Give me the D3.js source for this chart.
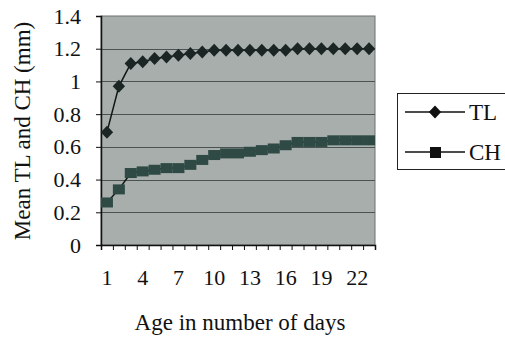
<!DOCTYPE html>
<html><head><meta charset="utf-8">
<script src="https://cdn.jsdelivr.net/npm/d3@7"></script>
<style>
html,body{margin:0;padding:0;background:#ffffff;}
svg{display:block;}
svg text{font-family:"Liberation Serif","Times New Roman",serif !important;}
</style></head>
<body><svg id="c" width="505" height="341"></svg>
<script>
const days = d3.range(1, 24);
const tlValues = [0.69,0.97,1.11,1.12,1.14,1.15,1.16,1.17,1.18,1.19,1.19,1.19,1.19,1.19,1.19,1.19,1.2,1.2,1.2,1.2,1.2,1.2,1.2];
const chValues = [0.26,0.34,0.44,0.45,0.46,0.47,0.47,0.49,0.52,0.55,0.56,0.56,0.57,0.58,0.59,0.61,0.63,0.63,0.63,0.64,0.64,0.64,0.64];
const xTickLabels = [1,4,7,10,13,16,19,22];
const yTicks = [0,0.2,0.4,0.6,0.8,1,1.2,1.4];
const seriesNames = ["TL","CH"];

const svg = d3.select("#c");
const L = 101, R = 375, T = 16, B = 245;
const x = d3.scaleBand().domain(days).range([L, R]).padding(0);
const xb = d3.scaleLinear().domain([0.5, 23.5]).range([L, R]);
const y = d3.scaleLinear().domain([0, 1.4]).range([B, T]);

// plot area
svg.append("rect").attr("x", L).attr("y", T).attr("width", R - L).attr("height", B - T)
  .attr("fill", "#a7aeac").attr("stroke", "#6d7371").attr("stroke-width", 1);

// gridlines
svg.append("g").selectAll("line").data(yTicks.filter(d => d > 0 && d < 1.4)).join("line")
  .attr("x1", L).attr("x2", R).attr("y1", d => Math.round(y(d)) + 0.5).attr("y2", d => Math.round(y(d)) + 0.5)
  .attr("stroke", "#4b5250").attr("stroke-width", 1);

// y axis
const yAxis = svg.append("g").attr("transform", `translate(${L},0)`)
  .call(d3.axisLeft(y).tickValues(yTicks).tickSize(5).tickPadding(15).tickFormat(d3.format("~g")));
yAxis.attr("font-family", null);
yAxis.select(".domain").attr("stroke", "#111").attr("stroke-width", 1.5);
yAxis.selectAll(".tick line").attr("stroke", "#111");
yAxis.selectAll("text").attr("font-size", 22).attr("fill", "#111");

// x axis ticks (category boundaries)
const xTickAxis = svg.append("g").attr("transform", `translate(0,${B})`)
  .call(d3.axisBottom(xb).tickValues(d3.range(0.5, 24, 1)).tickSize(5).tickFormat(""));
xTickAxis.select(".domain").attr("stroke", "#111").attr("stroke-width", 1.5);
xTickAxis.selectAll(".tick line").attr("stroke", "#111");

// x labels
const xLab = svg.append("g").attr("transform", `translate(0,${B})`)
  .call(d3.axisBottom(x).tickValues(xTickLabels).tickSize(0).tickPadding(24));
xLab.attr("font-family", null);
xLab.select(".domain").remove();
xLab.selectAll("text").attr("font-size", 22).attr("fill", "#111");

// lines
const cx = d => x(d) + x.bandwidth() / 2;
const line = d3.line().x((d, i) => cx(days[i])).y(d => y(d));
svg.append("path").datum(chValues).attr("d", line).attr("fill", "none").attr("stroke", "#101515").attr("stroke-width", 1.5);
svg.append("path").datum(tlValues).attr("d", line).attr("fill", "none").attr("stroke", "#101515").attr("stroke-width", 1.5);

// CH squares
svg.append("g").selectAll("rect").data(chValues).join("rect")
  .attr("x", (d, i) => cx(days[i]) - 6).attr("y", d => y(d) - 5)
  .attr("width", 12).attr("height", 10).attr("fill", "#2f4a45");

// TL diamonds
const diamond = (s) => `M0,${-s}L${s * 0.95},0L0,${s}L${-s * 0.95},0Z`;
svg.append("g").selectAll("path").data(tlValues).join("path")
  .attr("transform", (d, i) => `translate(${cx(days[i])},${y(d)})`)
  .attr("d", diamond(6.5)).attr("fill", "#1b2624");

// axis titles
svg.append("text").attr("x", (L + R) / 2 + 2).attr("y", 330).attr("text-anchor", "middle")
  .attr("font-size", 23).attr("fill", "#111").text("Age in number of days");
svg.append("text").attr("transform", "translate(30,131) rotate(-90)").attr("text-anchor", "middle")
  .attr("font-size", 23).attr("fill", "#111").text("Mean TL and CH (mm)");

// legend
const lg = svg.append("g");
lg.append("rect").attr("x", 397.5).attr("y", 93.5).attr("width", 115).attr("height", 76)
  .attr("fill", "#fff").attr("stroke", "#222").attr("stroke-width", 1);
const ly = [112, 152];
seriesNames.forEach((n, i) => {
  lg.append("line").attr("x1", 405).attr("x2", 465).attr("y1", ly[i]).attr("y2", ly[i])
    .attr("stroke", "#111").attr("stroke-width", 1.5);
  if (i === 0) {
    lg.append("path").attr("transform", `translate(435,${ly[i]})`).attr("d", diamond(6.5)).attr("fill", "#111");
  } else {
    lg.append("rect").attr("x", 430).attr("y", ly[i] - 5).attr("width", 11).attr("height", 11).attr("fill", "#111");
  }
  lg.append("text").attr("x", 469).attr("y", ly[i] + 8).attr("font-size", 23).attr("fill", "#111").text(n);
});
</script></body></html>
